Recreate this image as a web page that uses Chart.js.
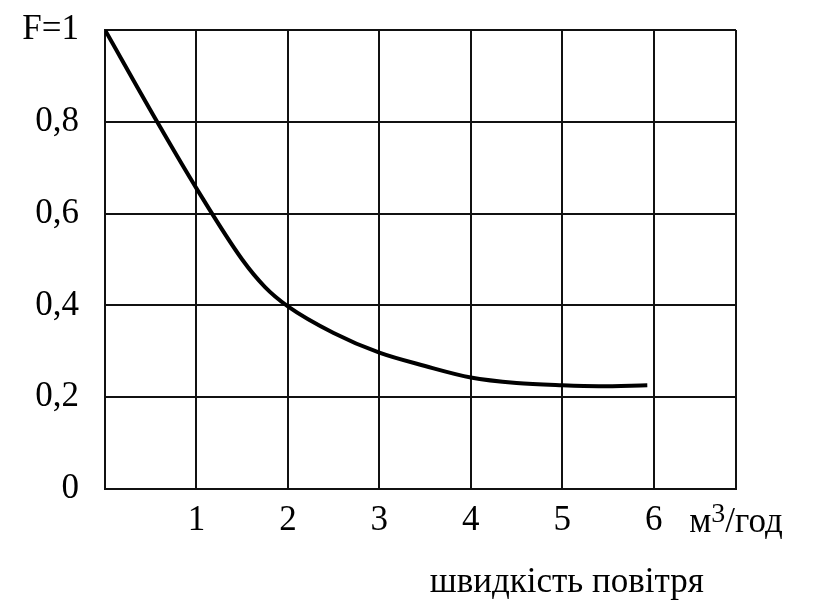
<!DOCTYPE html>
<html>
<head>
<meta charset="utf-8">
<script src="https://cdn.jsdelivr.net/npm/chart.js@4/dist/chart.umd.min.js"></script>
<style>
  html, body { margin: 0; padding: 0; background: #fff; }
  canvas { display: block; }
</style>
</head>
<body>
<canvas id="c" width="814" height="614"></canvas>
<script>
// Data
const xValues = [0, 0.57, 1, 1.5, 1.75, 2, 2.5, 3, 3.5, 4, 4.5, 5, 5.4, 5.93];
const fValues = [1, 0.8, 0.655, 0.5, 0.44, 0.398, 0.34, 0.297, 0.268, 0.243, 0.231, 0.226, 0.224, 0.226];
const yTickValues = [0, 0.2, 0.4, 0.6, 0.8, 1];
const yTickLabels = ['0', '0,2', '0,4', '0,6', '0,8', 'F=1'];
const xTickValues = [0, 1, 2, 3, 4, 5, 6, 6.9];
const xTickLabels = ['', '1', '2', '3', '4', '5', '6', ''];
const xUnitMain = 'м';
const xUnitSup = '3';
const xUnitRest = '/год';
const xTitle = 'швидкість повітря';

const FONT = '"Liberation Serif", "DejaVu Serif", serif';

const points = xValues.map((x, i) => ({ x: x, y: fValues[i] }));

const textPlugin = {
  id: 'extraText',
  afterDraw(chart) {
    const ctx = chart.ctx;
    const xs = chart.scales.x;
    ctx.save();
    ctx.fillStyle = '#000';
    ctx.textBaseline = 'alphabetic';
    ctx.textAlign = 'left';
    const big = '35px ' + FONT, small = '28px ' + FONT;
    ctx.font = big; const w1 = ctx.measureText(xUnitMain).width; const w3 = ctx.measureText(xUnitRest).width;
    ctx.font = small; const w2 = ctx.measureText(xUnitSup).width;
    const total = w1 + w2 + w3;
    let px = xs.getPixelForValue(6.9) - total / 2;
    const base = chart.chartArea.bottom + 43;
    ctx.font = big; ctx.fillText(xUnitMain, px, base); px += w1;
    ctx.font = small; ctx.fillText(xUnitSup, px, base - 10); px += w2;
    ctx.font = big; ctx.fillText(xUnitRest, px, base);
    ctx.textAlign = 'center';
    ctx.font = big;
    ctx.fillText(xTitle, xs.getPixelForValue(5.05), chart.chartArea.bottom + 103);
    ctx.restore();
  }
};

new Chart(document.getElementById('c'), {
  type: 'line',
  data: {
    datasets: [{
      data: points,
      borderColor: '#000',
      borderWidth: 4,
      pointRadius: 0,
      fill: false,
      cubicInterpolationMode: 'monotone',
      borderCapStyle: 'butt'
    }]
  },
  options: {
    responsive: false,
    animation: false,
    devicePixelRatio: 1,
    layout: { padding: { top: 30, right: 78, left: 0, bottom: 0 } },
    plugins: { legend: { display: false }, tooltip: { enabled: false } },
    scales: {
      x: {
        type: 'linear',
        min: 0,
        max: 6.9,
        afterBuildTicks: (s) => { s.ticks = xTickValues.map(v => ({ value: v })); },
        afterFit: (s) => { s.height = 125; s.paddingLeft = 0; s.paddingRight = 0; },
        grid: { color: '#111', lineWidth: 2, drawTicks: false },
        border: { color: '#111', width: 2 },
        ticks: {
          autoSkip: false,
          maxRotation: 0,
          padding: 11,
          color: '#000',
          font: { family: FONT, size: 35 },
          callback: (v, i) => xTickLabels[i]
        }
      },
      y: {
        type: 'linear',
        min: 0,
        max: 1,
        afterBuildTicks: (s) => { s.ticks = yTickValues.map(v => ({ value: v })); },
        afterFit: (s) => { s.width = 105; s.paddingTop = 0; s.paddingBottom = 0; },
        grid: { color: '#111', lineWidth: 2, drawTicks: false },
        border: { color: '#111', width: 2 },
        ticks: {
          autoSkip: false,
          padding: 26,
          color: '#000',
          font: { family: FONT, size: 35 },
          callback: (v, i) => yTickLabels[i]
        }
      }
    }
  },
  plugins: [textPlugin]
});
</script>
</body>
</html>
